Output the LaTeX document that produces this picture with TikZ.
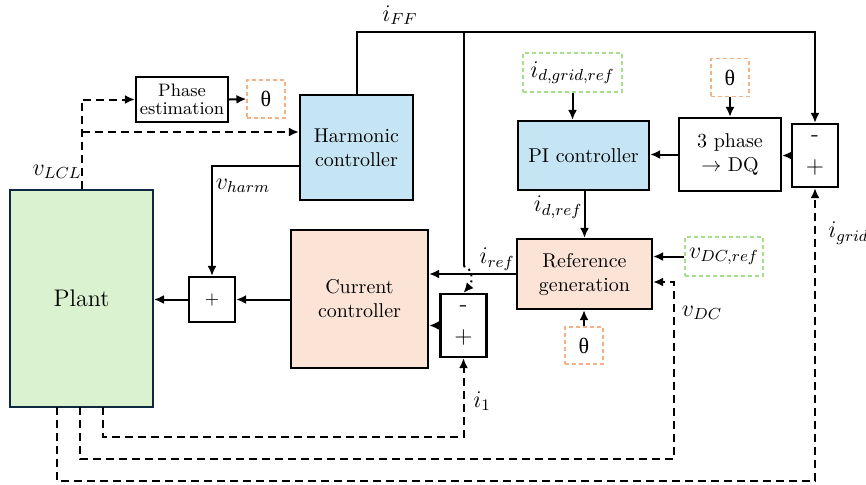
\documentclass[tikz,border=0pt]{standalone}
\usepackage{fontspec}
\newfontfamily\grkfont{Liberation Serif}
\usetikzlibrary{arrows.meta,calc}
\definecolor{blueF}{HTML}{C6E5F4}
\definecolor{peachF}{HTML}{FBE3D6}
\definecolor{greenF}{HTML}{DAF2D0}
\definecolor{greenD}{HTML}{A6DF8A}
\definecolor{orangeD}{HTML}{F4B183}
\definecolor{navy}{HTML}{0E2841}
\newcommand{\uth}{{\grkfont\fontsize{11}{12}\selectfont θ}}
\begin{document}
\begin{tikzpicture}[x=0.5pt,y=-0.5pt,
  blk/.style={draw, line width=1.1pt, inner sep=1pt, align=center, font=\normalsize},
  sumb/.style={draw, line width=1.1pt, minimum width=23pt, minimum height=31.5pt, align=center, inner sep=0pt, font=\large},
  dbox/.style={draw, dash pattern=on 2pt off 1.5pt, line width=0.6pt, minimum width=19pt, minimum height=19pt, inner sep=1pt},
  conn/.style={line width=1pt, -{Latex[length=5pt,width=4.5pt]}},
  dconn/.style={conn, dash pattern=on 4pt off 2.5pt},
  wire/.style={line width=1pt},
  lbl/.style={inner sep=1pt, font=\large}
]
\useasboundingbox (0,0) rectangle (866,484);

% blocks
\node[draw=navy, line width=1pt, fill=greenF, minimum width=71.5pt, minimum height=108.5pt, font=\large] (plant) at (81.5,298.5) {Plant};
\node[blk, minimum width=46pt, minimum height=22.5pt, font=\small, text depth=0pt] (phase) at (182,99.5) {Phase\\[-2pt]estimation};
\node[dbox, draw=orangeD] (th1) at (266,99) {\uth};
\node[blk, fill=blueF, minimum width=56.5pt, minimum height=52.5pt] (harm) at (356.5,147.5) {Harmonic\\controller};
\node[blk, fill=blueF, minimum width=65.5pt, minimum height=34.5pt] (pi) at (583.5,155.5) {PI controller};
\node[dbox, draw=greenD, minimum width=49.5pt, minimum height=19.5pt, font=\large] (idg) at (572.5,72.5) {$i_{d,grid,ref}$};
\node[blk, minimum width=51pt, minimum height=36.5pt] (dq) at (730,154.5) {3 phase\\$\rightarrow$ DQ};
\node[dbox, draw=orangeD] (th2) at (730,77.5) {\uth};
\node[sumb] (sumR) at (815,155.5) {-\\[2pt]+};
\node[blk, fill=peachF, minimum width=68.5pt, minimum height=69pt] (cur) at (359.5,299) {Current\\controller};
\node[sumb] (sumM) at (463.5,325.5) {-\\[2pt]+};
\node[blk, fill=peachF, minimum width=67.5pt, minimum height=35pt] (ref) at (584.5,274) {Reference\\generation};
\node[dbox, draw=greenD, minimum width=39pt, minimum height=19.5pt, font=\large] (vdcr) at (724,256.5) {$v_{DC,ref}$};
\node[dbox, draw=orangeD, minimum height=18.5pt] (th3) at (584,345.5) {\uth};
\node[blk, minimum width=23pt, minimum height=22.5pt, font=\small] (plus) at (212,299.5) {+};

% coordinates
\coordinate (vb) at (81.5,132);
\coordinate (hv) at (300,166);
\coordinate (topR) at (815,32);
\coordinate (jt) at (463.5,32);
\coordinate (jb) at (463.5,266);
\coordinate (vdc) at (674,282);
\coordinate (p1) at (103,407);
\coordinate (p2) at (80,407);
\coordinate (p3) at (57,407);

% connectors
\draw[dconn] (plant.north) |- (phase.west);
\draw[dconn] (vb) -- (vb -| harm.west);
\draw[conn] (phase.east) -- (th1.west);
\draw[conn] (harm.north) |- (topR) -- (sumR.north);
\draw[wire] (jt) -- (jb);
\draw[conn, dotted, line width=1pt] (jb) .. controls (473,268) and (473,282) .. (sumM.north);
\draw[conn] (hv) -| (plus.north);
\draw[conn] (cur.west |- plus.east) -- (plus.east);
\draw[conn] (plus.west) -- (plus.west -| plant.east);
\draw[conn] (ref.west) -- (ref.west -| cur.east);
\draw[conn] (sumM.west) -- (sumM.west -| cur.east);
\draw[conn] (pi.south -| ref.north) -- (ref.north);
\draw[conn] (idg.south) -- (idg.south |- pi.north);
\draw[conn] (th2.south) -- (dq.north);
\draw[conn] (dq.west) -- (dq.west -| pi.east);
\draw[conn] (sumR.west) -- (sumR.west -| dq.east);
\draw[conn] (vdcr.west) -- (vdcr.west -| ref.east);
\draw[conn] (th3.north) -- (th3.north |- ref.south);
\draw[dconn] (p1) -- ++(0,30) -| (sumM.south);
\draw[dconn] (p2) -- ++(0,52) -| (vdc) -- (vdc -| ref.east);
\draw[dconn] (p3) -- ++(0,74) -| (sumR.south);

% labels
\node[lbl] (lvl) at (57,172) {$v_{LCL}$};
\node[lbl] (lff) at (400,15) {$i_{FF}$};
\node[lbl] (lvh) at (243,186) {$v_{harm}$};
\node[lbl] (lidr) at (558,207) {$i_{d,ref}$};
\node[lbl] (lir) at (497,259) {$i_{ref}$};
\node[lbl] (lvdc) at (702,313) {$v_{DC}$};
\node[lbl] (li1) at (482,401) {$i_1$};
\node[lbl, anchor=west] (lig) at (826,233) {$i_{grid}$};
\end{tikzpicture}
\end{document}
